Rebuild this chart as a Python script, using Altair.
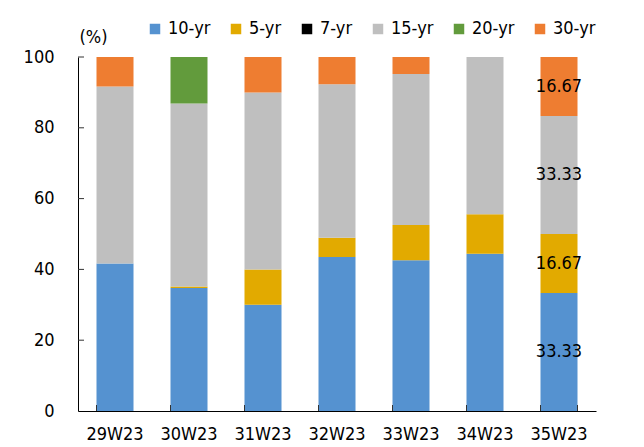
import altair as alt
import pandas as pd

weeks = ["29W23", "30W23", "31W23", "32W23", "33W23", "34W23", "35W23"]
series = ["10-yr", "5-yr", "7-yr", "15-yr", "20-yr", "30-yr"]
colors = ["#5592D0", "#E2AA00", "#000000", "#BFBFBF", "#629B3C", "#EE7D31"]

v10 = [41.67, 34.78, 30.00, 43.48, 42.55, 44.44, 33.33]
v5 = [0.00, 0.40, 10.00, 5.43, 10.00, 11.11, 16.67]
v7 = [0.00, 0.00, 0.00, 0.00, 0.00, 0.00, 0.00]
v15 = [50.00, 51.70, 50.00, 43.40, 42.65, 44.45, 33.33]
v20 = [0.00, 13.10, 0.00, 0.00, 0.00, 0.00, 0.00]
v30 = [8.33, 0.00, 10.00, 7.70, 4.80, 0.00, 16.67]

y_ticks = [0, 20, 40, 60, 80, 100]
label_week = "35W23"

FONT = "DejaVu Sans Condensed, Liberation Sans, sans-serif"

all_vals = [v10, v5, v7, v15, v20, v30]
rows = []
for si, (s, vals) in enumerate(zip(series, all_vals)):
    for w, v in zip(weeks, vals):
        rows.append({"week": w, "series": s, "idx": si, "value": v})
df = pd.DataFrame(rows)

W, H = 518, 354

xscale = alt.Scale(domain=weeks, paddingInner=0.5, paddingOuter=0.25)
yscale = alt.Scale(domain=[0, 100], nice=False, zero=True)

base = alt.Chart(df)

bars = base.mark_bar().encode(
    x=alt.X("week:N", scale=xscale, sort=weeks,
            axis=alt.Axis(title=None, labelAngle=0, ticks=False, labelPadding=14,
                          domainColor="#000000", labelFontSize=18, labelFont=FONT,
                          labelColor="#000000")),
    y=alt.Y("value:Q", scale=yscale, stack="zero",
            axis=alt.Axis(values=y_ticks, ticks=False, grid=False, labelPadding=24,
                          domainColor="#000000", labelFontSize=18, labelFont=FONT,
                          labelColor="#000000",
                          title="(%)", titleAngle=0, titleX=15, titleY=-20,
                          titleAlign="center", titleBaseline="middle",
                          titleFont=FONT, titleFontSize=18, titleFontWeight="normal",
                          titleColor="#000000")),
    color=alt.Color("series:N", scale=alt.Scale(domain=series, range=colors),
                    legend=alt.Legend(title=None, orient="none", direction="horizontal",
                                      legendX=68, legendY=-37, symbolType="square",
                                      symbolSize=110, symbolStrokeWidth=0,
                                      labelFontSize=18, labelFont=FONT,
                                      labelColor="#000000", columnPadding=16,
                                      labelOffset=4, padding=0)),
    order=alt.Order("idx:Q", sort="ascending"),
)

labels = base.transform_stack(
    stack="value", groupby=["week"], as_=["v0", "v1"],
    sort=[alt.SortField("idx", order="ascending")]
).transform_filter(
    (alt.datum.week == label_week) & (alt.datum.value > 0)
).transform_calculate(
    mid="(datum.v0 + datum.v1) / 2"
).mark_text(font=FONT, fontSize=18, color="#000000", baseline="middle", align="center").encode(
    x=alt.X("week:N", scale=xscale, sort=weeks),
    y=alt.Y("mid:Q", scale=yscale),
    text=alt.Text("value:Q", format=".2f"),
)

ytick_df = pd.DataFrame({"t": y_ticks[1:]})
yticks = alt.Chart(ytick_df).mark_rule(color="#333333", strokeWidth=1).encode(
    y=alt.Y("t:Q", scale=yscale),
    x=alt.value(0), x2=alt.value(6),
)

xtick_df = pd.DataFrame({"week": weeks})
xticks = alt.Chart(xtick_df).mark_rule(color="#333333", strokeWidth=1).encode(
    x=alt.X("week:N", scale=xscale, sort=weeks, bandPosition=0),
    y=alt.value(H - 6), y2=alt.value(H),
)
xtick_end = alt.Chart(pd.DataFrame({"week": [weeks[-1]]})).mark_rule(
    color="#333333", strokeWidth=1).encode(
    x=alt.X("week:N", scale=xscale, sort=weeks, bandPosition=1),
    y=alt.value(H - 6), y2=alt.value(H),
)

chart = alt.layer(bars, labels, yticks, xticks, xtick_end).properties(
    width=W, height=H,
    autosize=alt.AutoSizeParams(type="none"),
    padding={"left": 70, "top": 49, "right": 40, "bottom": 36},
).configure_view(stroke=None).configure_axis(domainWidth=1)

chart.save("out.html", embed_options={"renderer": "svg", "actions": False})
